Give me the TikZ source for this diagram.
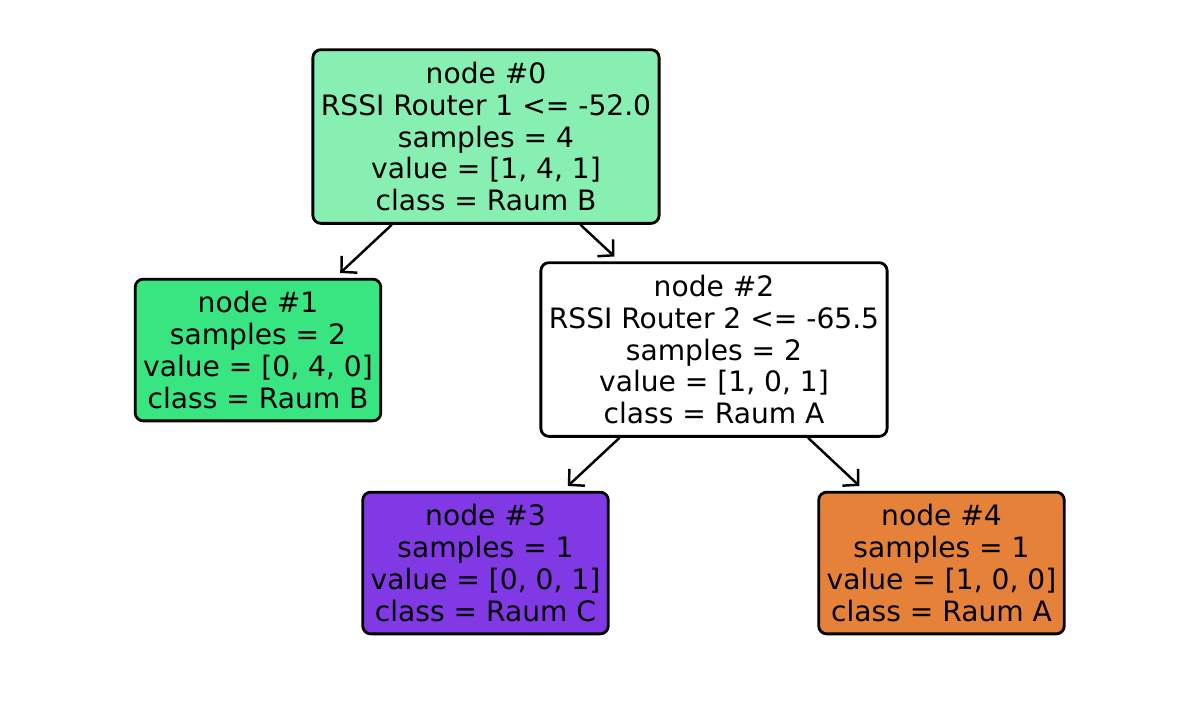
\documentclass[tikz,border=0pt]{standalone}
\usepackage{fontspec}
\setmainfont{DejaVu Sans}
\usetikzlibrary{arrows.meta}

\definecolor{raumA}{HTML}{E58139}
\definecolor{raumB}{HTML}{39E581}
\definecolor{raumC}{HTML}{8139E5}
\definecolor{raumBlight}{HTML}{88EFB3}

\begin{document}
\begin{tikzpicture}[
    leaf/.style={draw, line width=0.8pt, rounded corners=0.08cm, align=center,
      inner xsep=0.08cm, inner ysep=0.12cm, font=\fontsize{8}{9.1}\selectfont},
    edge/.style={-{Straight Barb[length=1.1mm,width=2.3mm]}, line width=0.7pt, shorten >=0.7mm}
  ]
      \useasboundingbox (0,0) rectangle (12,-7);

      % root split
      \node[leaf, fill=raumBlight] (n0) at (4.86,-1.365)
        {node \#0\\RSSI Router 1 <= -52.0\\samples = 4\\value = [1, 4, 1]\\class = Raum B};

      % first level
      \node[leaf, fill=raumB] (n1) at (2.58,-3.50)
        {node \#1\\samples = 2\\value = [0, 4, 0]\\class = Raum B};
      \node[leaf, fill=white] (n2) at (7.14,-3.495)
        {node \#2\\RSSI Router 2 <= -65.5\\samples = 2\\value = [1, 0, 1]\\class = Raum A};

      % second level
      \node[leaf, fill=raumC] (n3) at (4.855,-5.63)
        {node \#3\\samples = 1\\value = [0, 0, 1]\\class = Raum C};
      \node[leaf, fill=raumA] (n4) at (9.415,-5.63)
        {node \#4\\samples = 1\\value = [1, 0, 0]\\class = Raum A};

      \draw[edge] (n0) -- (n1);
      \draw[edge] (n0) -- (n2);
      \draw[edge] (n2) -- (n3);
      \draw[edge] (n2) -- (n4);
    \end{tikzpicture}
\end{document}
